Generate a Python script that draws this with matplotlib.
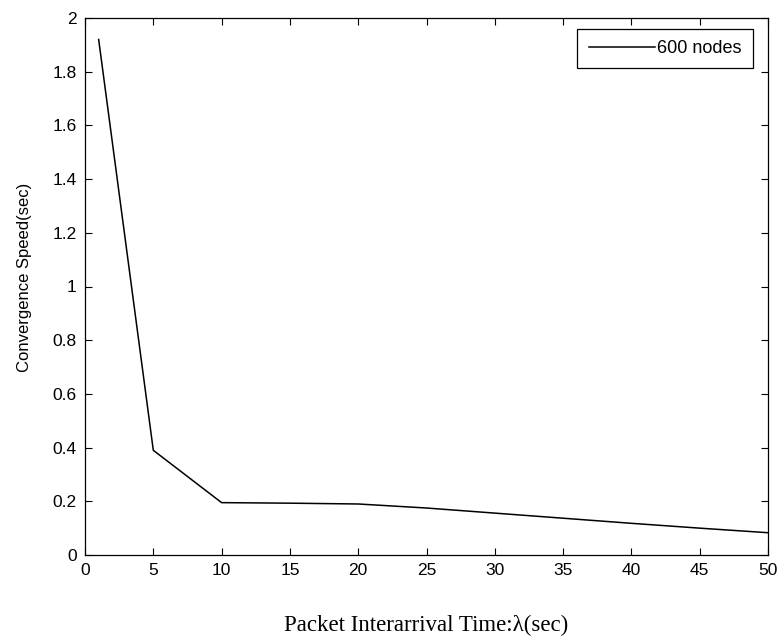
import matplotlib
matplotlib.use("Agg")
import matplotlib.pyplot as plt

# values
interarrival = [1, 5, 10, 15, 20, 25, 30, 35, 40, 45, 50]
speed_600 = [1.92, 0.39, 0.195, 0.193, 0.19, 0.175, 0.156, 0.137, 0.118, 0.10, 0.083]
x_ticks = list(range(0, 51, 5))
y_ticks = [0, 0.2, 0.4, 0.6, 0.8, 1, 1.2, 1.4, 1.6, 1.8, 2]
y_tick_labels = ["0", "0.2", "0.4", "0.6", "0.8", "1", "1.2", "1.4", "1.6", "1.8", "2"]

plt.rcParams["font.family"] = ["Liberation Sans", "DejaVu Sans"]

W, H = 782, 642
fig = plt.figure(figsize=(W / 100, H / 100), dpi=100)
# axes box in pixels: left 85, right 768, top 18, bottom 555
ax = fig.add_axes([85 / W, 1 - 555 / H, (768 - 85) / W, (555 - 18) / H])

ax.plot(interarrival, speed_600, color="black", lw=1.1, label="600 nodes")

ax.set_xlim(0, 50)
ax.set_ylim(0, 2)
ax.set_xticks(x_ticks)
ax.set_yticks(y_ticks)
ax.set_yticklabels(y_tick_labels)
ax.tick_params(direction="in", length=5, width=0.8, top=True, right=True,
               labelsize=12.5, colors="black", pad=6)
for s in ax.spines.values():
    s.set_linewidth(0.9)

ax.set_xlabel("Packet Interarrival Time:λ(sec)", fontsize=16.5,
              family=["Liberation Serif", "DejaVu Serif"], labelpad=26)
ax.set_ylabel("Convergence Speed(sec)", fontsize=12)
ax.yaxis.set_label_coords(-0.078, 0.517)

leg = ax.legend(loc="upper right", bbox_to_anchor=(0.978, 0.9795),
                fontsize=13, fancybox=False, framealpha=1,
                edgecolor="black", handlelength=3.7, borderpad=0.62,
                handletextpad=0.1, borderaxespad=0)
leg.get_frame().set_linewidth(0.9)

fig.savefig("out.png", dpi=100)
